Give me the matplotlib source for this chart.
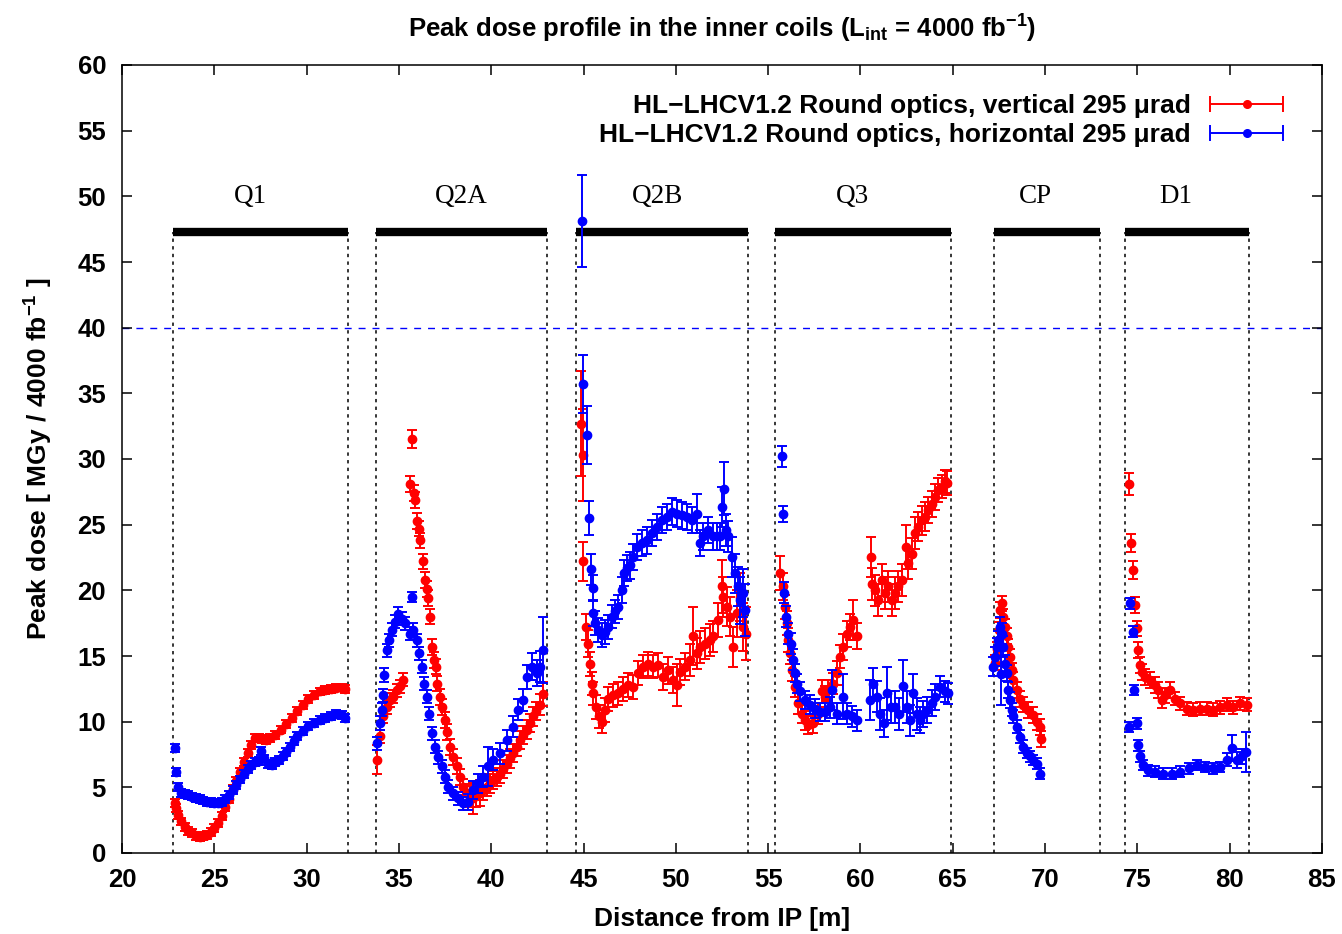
import numpy as np
import matplotlib
matplotlib.use("Agg")
import matplotlib.pyplot as plt
from matplotlib.legend_handler import HandlerErrorbar

plt.rcParams['font.family'] = ['Liberation Sans', 'DejaVu Sans']
plt.rcParams['font.weight'] = 'bold'
plt.rcParams['mathtext.fontset'] = 'custom'
plt.rcParams['mathtext.rm'] = 'Liberation Sans:bold'
plt.rcParams['mathtext.bf'] = 'Liberation Sans:bold'
plt.rcParams['mathtext.it'] = 'Liberation Sans:bold'
plt.rcParams['mathtext.default'] = 'bf'

# ---------------- magnets ----------------
magnet_names = ["Q1", "Q2A", "Q2B", "Q3", "CP", "D1"]
magnet_start = [22.76, 33.76, 44.59, 55.37, 67.23, 74.33]
magnet_end = [32.24, 43.02, 53.91, 64.90, 72.97, 81.05]
magnet_label_x = [26.93, 38.36, 49.03, 59.54, 69.50, 77.09]
bar_level = 47.3
label_level = 50.0
limit_level = 40.0

# ---------------- vertical 295 urad (red) ----------------
q1_red_x = [22.87, 22.95, 23.05, 23.2, 23.4, 23.6, 23.8, 24.0, 24.2, 24.4, 24.6, 24.8, 25.0,
            25.2, 25.4, 25.6, 25.8, 26.0, 26.2, 26.4, 26.6, 26.8, 27.0, 27.2, 27.4, 27.6,
            27.8, 28.0, 28.3, 28.6, 28.9, 29.2, 29.5, 29.8, 30.1, 30.4, 30.7, 31.0, 31.3,
            31.6, 31.9, 32.1]
q1_red_y = [3.8, 3.4, 2.9, 2.4, 2.0, 1.7, 1.5, 1.3, 1.25, 1.3, 1.4, 1.6, 1.9,
            2.3, 2.8, 3.5, 4.1, 4.9, 5.5, 6.2, 6.9, 7.6, 8.2, 8.75, 8.75, 8.7,
            8.6, 8.75, 9.0, 9.4, 9.8, 10.3, 10.8, 11.3, 11.7, 12.0, 12.3, 12.4, 12.5,
            12.6, 12.6, 12.5]
q1_red_e = [0.3] * len(q1_red_x)

q2a_red_x = [33.83, 33.97, 34.15, 34.34, 34.52, 34.7, 34.88, 35.06, 35.24, 35.6, 35.69,
             35.82, 35.87, 36.0, 36.1, 36.14, 36.28, 36.41, 36.5, 36.59, 36.68, 36.77,
             36.9, 37.0, 37.08, 37.22, 37.32, 37.5, 37.62, 37.77, 37.94, 38.13, 38.31,
             38.49, 38.67, 38.85, 39.03, 39.2, 39.39, 39.57, 39.75, 39.93, 40.11, 40.29,
             40.47, 40.66, 40.84, 41.02, 41.2, 41.38, 41.56, 41.74, 41.92, 42.1, 42.28,
             42.45, 42.62, 42.79]
q2a_red_y = [7.1, 8.9, 10.4, 11.1, 11.65, 11.9, 12.4, 12.7, 13.2, 28.1, 31.5,
             27.4, 26.9, 25.3, 24.7, 23.8, 22.2, 20.8, 20.1, 19.4, 18.0, 15.7,
             14.7, 14.2, 12.9, 11.9, 11.1, 10.1, 9.2, 8.1, 7.3, 6.6, 5.8,
             5.05, 4.55, 4.3, 4.15, 4.4, 4.55, 4.8, 5.05, 5.3, 5.55, 5.8,
             6.05, 6.4, 6.8, 7.2, 7.6, 8.1, 8.6, 9.0, 9.4, 9.9, 10.4,
             10.8, 11.3, 12.1]
q2a_red_e = [1.1, 0.5, 0.5, 0.5, 0.5, 0.5, 0.5, 0.5, 0.5, 0.6, 0.7,
             0.6, 0.6, 0.6, 0.6, 0.6, 0.6, 0.6, 0.6, 0.6, 0.6, 0.6,
             0.6, 0.6, 0.6, 0.6, 0.6, 0.6, 0.6, 0.6, 0.6, 0.6, 0.6,
             0.6, 0.7, 0.8, 1.2, 0.9, 1.0, 0.8, 0.7, 0.7, 0.7, 0.7,
             0.7, 0.7, 0.7, 0.7, 0.7, 0.7, 0.7, 0.7, 0.7, 0.7, 0.7,
             0.7, 0.8, 0.9]

q2b_red_x = [44.88, 44.95, 44.99, 45.13, 45.26, 45.35, 45.44, 45.53, 45.67, 45.86, 45.98,
             46.16, 46.34, 46.61, 46.88, 47.15, 47.43, 47.7, 47.97, 48.24, 48.51, 48.78,
             49.05, 49.32, 49.59, 49.86, 50.05, 50.22, 50.5, 50.77, 50.95, 51.13, 51.31,
             51.58, 51.85, 52.03, 52.3, 52.48, 52.57, 52.76, 52.93, 53.12, 53.3, 53.48,
             53.66, 53.8]
q2b_red_y = [32.7, 30.3, 22.2, 17.2, 15.95, 14.4, 12.9, 12.15, 11.1, 10.4, 10.0,
             10.9, 11.75, 12.0, 12.15, 12.5, 12.8, 12.66, 13.7, 14.2, 14.4, 14.2,
             14.3, 13.4, 13.9, 13.2, 12.8, 13.8, 14.2, 14.7, 16.5, 15.2, 15.7,
             15.95, 16.2, 16.5, 17.75, 20.3, 19.5, 18.75, 18.0, 15.7, 18.25, 19.5,
             17.2, 16.7]
q2b_red_e = [4.0, 3.5, 1.5, 1.0, 1.0, 0.9, 0.9, 0.9, 0.9, 0.9, 0.9,
             0.9, 0.9, 0.9, 0.9, 0.9, 0.9, 0.9, 0.9, 0.9, 0.9, 0.9,
             0.9, 1.0, 1.0, 1.0, 1.6, 1.0, 1.0, 1.2, 2.2, 1.2, 1.2,
             1.2, 1.2, 1.2, 1.3, 2.0, 1.5, 1.5, 1.5, 1.5, 1.8, 1.8,
             1.8, 2.0]

q3_red_x = [55.64, 55.82, 55.91, 56.0, 56.09, 56.18, 56.27, 56.45, 56.64, 56.82, 56.99,
            57.18, 57.45, 57.72, 57.9, 58.08, 58.26, 58.53, 58.71, 58.89, 59.07, 59.25,
            59.43, 59.61, 59.79,
            60.57, 60.6, 60.79, 60.97, 61.15, 61.33, 61.51, 61.69, 61.87, 62.05, 62.23,
            62.47, 62.59, 62.78, 62.95, 63.13, 63.32, 63.5, 63.68, 63.86, 64.04, 64.22,
            64.4, 64.58, 64.71]
q3_red_y = [21.3, 20.3, 18.75, 17.5, 16.2, 15.2, 13.9, 12.66, 11.4, 10.6, 10.1,
            9.75, 9.87, 10.6, 12.3, 11.9, 12.4, 12.9, 13.7, 14.95, 15.7, 16.7,
            17.2, 17.75, 16.5,
            22.55, 20.5, 20.0, 19.25, 20.8, 19.8, 20.3, 19.25, 19.8, 20.3, 20.8,
            23.3, 22.05, 22.8, 24.35, 24.85, 25.35, 25.6, 26.1, 26.6, 27.1, 27.65,
            27.9, 28.3, 28.15]
q3_red_e = [1.3, 1.0, 0.9, 0.9, 0.9, 0.8, 0.8, 0.8, 0.8, 0.7, 0.7,
            0.7, 0.7, 0.8, 0.9, 0.8, 0.8, 0.8, 0.9, 0.9, 1.0, 1.0,
            1.0, 1.5, 1.0,
            1.5, 1.2, 1.2, 1.2, 1.2, 1.2, 1.2, 1.2, 1.2, 1.2, 1.2,
            1.7, 1.2, 1.2, 1.2, 1.1, 1.1, 1.1, 1.0, 1.0, 1.0, 0.9,
            0.9, 0.9, 0.9]

cp_red_x = [67.3, 67.4, 67.5, 67.58, 67.65, 67.74, 67.83, 67.92, 68.01, 68.1, 68.19,
            68.28, 68.46, 68.64, 68.82, 69.1, 69.37, 69.58, 69.73, 69.78]
cp_red_y = [14.5, 15.5, 17.0, 18.5, 19.0, 18.0, 17.2, 16.5, 15.7, 14.95, 13.9,
            13.2, 12.4, 11.75, 11.3, 10.9, 10.5, 10.0, 9.6, 8.7]
cp_red_e = [0.6] * len(cp_red_x)

d1_red_x = [74.56, 74.65, 74.74, 74.87, 74.96, 75.05, 75.14, 75.23, 75.41, 75.68, 75.95,
            76.13, 76.32, 76.5, 76.77, 77.04, 77.31, 77.68, 78.03, 78.39, 78.76, 79.12,
            79.48, 79.85, 80.2, 80.57, 80.92]
d1_red_y = [28.1, 23.6, 21.55, 18.9, 17.1, 15.45, 14.3, 13.8, 13.4, 13.2, 12.8,
            12.4, 11.65, 12.0, 12.4, 11.75, 11.4, 11.0, 10.9, 11.0, 11.0, 10.9,
            11.1, 11.3, 11.1, 11.4, 11.3]
d1_red_e = [0.85, 0.7, 0.7, 0.6, 0.6, 0.6, 0.6, 0.6, 0.6, 0.6, 0.6,
            0.6, 0.6, 0.6, 0.6, 0.5, 0.5, 0.5, 0.5, 0.5, 0.5, 0.5,
            0.5, 0.5, 0.5, 0.5, 0.5]

# ---------------- horizontal 295 urad (blue) ----------------
q1_blue_x = [22.87, 22.95, 23.05, 23.2, 23.4, 23.6, 23.8, 24.0, 24.2, 24.4, 24.6, 24.8,
             25.0, 25.2, 25.4, 25.6, 25.8, 26.0, 26.2, 26.4, 26.6, 26.8, 27.0, 27.2,
             27.4, 27.55, 27.7, 27.9, 28.1, 28.3, 28.5, 28.7, 28.9, 29.1, 29.3, 29.5,
             29.8, 30.1, 30.4, 30.7, 31.0, 31.3, 31.6, 31.9, 32.1]
q1_blue_y = [8.0, 6.2, 5.05, 4.6, 4.5, 4.4, 4.3, 4.2, 4.1, 4.0, 3.9, 3.85,
             3.8, 3.8, 3.9, 4.1, 4.4, 4.8, 5.2, 5.6, 6.0, 6.4, 6.7, 6.9,
             7.0, 7.8, 7.2, 6.8, 6.7, 6.9, 7.1, 7.4, 7.7, 8.1, 8.5, 8.9,
             9.3, 9.7, 9.9, 10.1, 10.3, 10.4, 10.6, 10.5, 10.3]
q1_blue_e = [0.3] * len(q1_blue_x)

q2a_blue_x = [33.83, 33.97, 34.07, 34.12, 34.19, 34.34, 34.48, 34.61, 34.79, 34.97, 35.15,
              35.33, 35.6, 35.69, 35.78, 35.96, 36.1, 36.23, 36.35, 36.5, 36.64, 36.77,
              36.95, 37.13, 37.32, 37.5, 37.68, 37.94, 38.22, 38.49, 38.76, 39.03, 39.3,
              39.57, 39.84, 40.11, 40.47, 40.84, 41.2, 41.47, 41.74, 41.92, 42.19, 42.46,
              42.64, 42.79]
q2a_blue_y = [8.35, 9.9, 10.9, 12.0, 13.55, 15.45, 16.2, 17.0, 17.6, 18.2, 17.85,
              17.5, 16.7, 19.5, 17.0, 16.2, 15.2, 14.2, 12.9, 11.9, 10.6, 9.1,
              8.1, 7.3, 6.6, 5.8, 5.05, 4.55, 4.15, 3.8, 3.9, 4.8, 5.3,
              5.8, 6.6, 7.1, 7.6, 8.6, 9.6, 10.9, 11.65, 13.4, 14.2, 13.7,
              14.2, 15.45]
q2a_blue_e = [0.5, 0.5, 0.5, 0.5, 0.5, 0.5, 0.5, 0.5, 0.5, 0.5, 0.5,
              0.5, 0.5, 0.4, 0.5, 0.5, 0.5, 0.5, 0.5, 0.5, 0.5, 0.5,
              0.5, 0.5, 0.5, 0.5, 0.5, 0.5, 0.5, 0.5, 0.6, 0.7, 0.7,
              0.8, 1.5, 0.8, 0.8, 0.8, 0.8, 0.8, 0.8, 0.9, 1.0, 1.0,
              1.2, 2.5]

q2b_blue_x = [44.94, 44.98, 45.18, 45.31, 45.43, 45.51, 45.53, 45.62, 45.8, 45.98, 46.16,
              46.34, 46.52, 46.7, 46.88, 47.07, 47.19, 47.34, 47.52, 47.7, 47.88, 48.15,
              48.42, 48.69, 48.96, 49.23, 49.5, 49.77, 50.05, 50.32, 50.59, 50.86, 51.13,
              51.31, 51.49, 51.76, 52.03, 52.21, 52.4, 52.52, 52.59, 52.72, 52.84, 53.02,
              53.2, 53.35, 53.48, 53.62, 53.75]
q2b_blue_y = [48.1, 35.7, 31.8, 25.5, 21.6, 20.2, 18.25, 17.5, 17.0, 16.6, 16.85,
              17.2, 18.0, 18.4, 18.75, 20.0, 21.3, 21.7, 21.9, 22.55, 23.3, 23.6,
              23.8, 24.35, 24.85, 25.35, 25.6, 26.0, 25.85, 25.7, 25.6, 25.35, 25.85,
              23.6, 24.1, 24.6, 24.1, 24.1, 24.1, 26.35, 27.75, 24.6, 24.1, 22.55,
              21.3, 20.3, 19.25, 19.8, 18.5]
q2b_blue_e = [3.5, 2.2, 2.2, 1.3, 1.2, 1.0, 1.0, 0.9, 0.9, 0.9, 0.9,
              0.9, 0.9, 0.9, 0.9, 1.0, 1.0, 1.0, 1.0, 1.0, 1.0, 1.0,
              1.0, 1.0, 1.0, 1.0, 1.0, 1.0, 1.0, 1.0, 1.0, 1.0, 1.5,
              1.0, 1.0, 1.0, 1.0, 1.0, 1.0, 1.5, 2.0, 1.2, 1.2, 1.5,
              1.5, 1.5, 1.8, 1.8, 2.0]

q3_blue_x = [55.73, 55.79, 55.86, 55.97, 56.09, 56.22, 56.33, 56.45, 56.58, 56.72, 56.99,
             57.27, 57.54, 57.81, 58.08, 58.35, 58.44, 58.71, 59.07, 59.25, 59.52, 59.79,
             60.52, 60.7, 60.88, 61.06, 61.28, 61.42, 61.64, 61.87, 62.1, 62.32, 62.5,
             62.68, 62.86, 63.04, 63.22, 63.4, 63.59, 63.86, 64.04, 64.31, 64.58, 64.76]
q3_blue_y = [30.2, 25.8, 19.8, 18.0, 16.7, 15.95, 14.7, 13.7, 12.9, 12.3, 11.65,
             11.3, 11.0, 10.75, 10.75, 11.1, 12.4, 10.6, 11.9, 10.6, 10.4, 10.1,
             11.65, 12.9, 11.9, 10.6, 9.87, 12.15, 11.1, 11.1, 10.6, 12.7, 11.1,
             10.1, 12.15, 10.6, 10.1, 10.6, 10.9, 11.4, 11.9, 12.66, 12.3, 12.15]
q3_blue_e = [0.8, 0.6, 0.8, 0.8, 0.8, 0.8, 0.8, 0.7, 0.7, 0.7, 0.7,
             0.7, 0.7, 0.7, 0.7, 0.8, 1.5, 0.8, 1.7, 0.8, 0.8, 0.8,
             1.5, 1.2, 1.2, 1.2, 1.0, 2.0, 1.2, 1.2, 1.2, 2.0, 1.2,
             1.2, 1.5, 1.2, 1.0, 1.0, 1.0, 1.0, 1.0, 0.8, 0.8, 0.8]

cp_blue_x = [67.2, 67.29, 67.38, 67.47, 67.56, 67.6, 67.65, 67.74, 67.83, 67.92, 68.01,
             68.1, 68.19, 68.28, 68.46, 68.64, 68.82, 69.0, 69.19, 69.37, 69.55, 69.73]
cp_blue_y = [14.2, 14.95, 15.7, 16.2, 17.2, 13.6, 16.7, 15.7, 14.4, 13.7, 12.4,
             11.65, 10.9, 10.4, 9.6, 8.85, 8.1, 7.6, 7.35, 7.1, 6.8, 6.05]
cp_blue_e = [0.7, 0.7, 0.7, 0.7, 0.8, 2.3, 0.8, 0.8, 0.7, 0.6, 0.6,
             0.6, 0.5, 0.5, 0.5, 0.5, 0.5, 0.4, 0.4, 0.4, 0.4, 0.4]

d1_blue_x = [74.56, 74.6, 74.74, 74.83, 74.99, 75.05, 75.14, 75.32, 75.59, 75.95, 76.4,
             76.86, 77.31, 77.77, 78.21, 78.66, 79.12, 79.48, 79.85, 80.12, 80.39, 80.66,
             80.88]
d1_blue_y = [9.6, 19.0, 16.85, 12.4, 9.87, 8.2, 7.35, 6.7, 6.3, 6.2, 6.05,
             6.05, 6.2, 6.45, 6.7, 6.55, 6.45, 6.55, 7.1, 8.0, 7.1, 7.35,
             7.7]
d1_blue_e = [0.4, 0.4, 0.4, 0.4, 0.4, 0.4, 0.4, 0.4, 0.4, 0.4, 0.4,
             0.4, 0.4, 0.4, 0.4, 0.4, 0.4, 0.4, 0.5, 1.0, 0.6, 0.6,
             1.5]

red_sets = [(q1_red_x, q1_red_y, q1_red_e), (q2a_red_x, q2a_red_y, q2a_red_e),
            (q2b_red_x, q2b_red_y, q2b_red_e), (q3_red_x, q3_red_y, q3_red_e),
            (cp_red_x, cp_red_y, cp_red_e), (d1_red_x, d1_red_y, d1_red_e)]
blue_sets = [(q1_blue_x, q1_blue_y, q1_blue_e), (q2a_blue_x, q2a_blue_y, q2a_blue_e),
             (q2b_blue_x, q2b_blue_y, q2b_blue_e), (q3_blue_x, q3_blue_y, q3_blue_e),
             (cp_blue_x, cp_blue_y, cp_blue_e), (d1_blue_x, d1_blue_y, d1_blue_e)]

label_red = "HL\u2212LHCV1.2 Round optics, vertical 295 \u03bcrad"
label_blue = "HL\u2212LHCV1.2 Round optics, horizontal 295 \u03bcrad"

fig = plt.figure(figsize=(13.42, 9.34), dpi=100)
ax = fig.add_axes([122 / 1342, 81 / 934, 1200 / 1342, 788 / 934])

eb_kw = dict(fmt='o', ms=6, capsize=3.5, elinewidth=1.4, capthick=1.4,
             linestyle='none')

# magnet boundaries
for s, e in zip(magnet_start, magnet_end):
    for xv in (s, e):
        ax.plot([xv, xv], [0, bar_level], color='black', lw=1.1,
                linestyle=(0, (2.2, 2.8)), zorder=1)
    ax.plot([s, e], [bar_level, bar_level], color='black', lw=6.0,
            solid_capstyle='butt', zorder=2)
for name, lx in zip(magnet_names, magnet_label_x):
    ax.text(lx, label_level, name, ha='center', va='center', fontsize=19.5,
            family=['Liberation Serif', 'DejaVu Serif'], fontweight='normal')

ax.axhline(limit_level, color='#0000ff', lw=1.0, linestyle=(0, (5, 5)), zorder=1)

for xs, ys, es in red_sets:
    ax.errorbar(xs, ys, yerr=es, color='#ff0000', zorder=3, **eb_kw)
for xs, ys, es in blue_sets:
    ax.errorbar(xs, ys, yerr=es, color='#0000ff', zorder=4, **eb_kw)

# legend proxies (gnuplot style horizontal error bar)
leg_kw = dict(fmt='o', ms=5.5, capsize=5.5, elinewidth=1.4, capthick=1.4)
p_red = ax.errorbar([np.nan], [np.nan], xerr=[1], color='#ff0000', label=label_red, **leg_kw)
p_blue = ax.errorbar([np.nan], [np.nan], xerr=[1], color='#0000ff', label=label_blue, **leg_kw)
leg = ax.legend(handles=[p_red, p_blue], loc='upper right', bbox_to_anchor=(0.969, 0.963),
                frameon=False, markerfirst=False, fontsize=19, handlelength=2.9,
                handletextpad=0.65, labelspacing=0.2, borderpad=0, borderaxespad=0,
                handler_map={type(p_red): HandlerErrorbar(xerr_size=1.38)})
for t in leg.get_texts():
    t.set_fontweight('bold')

ax.set_xlim(20, 85)
ax.set_ylim(0, 60)
ax.set_xticks(np.arange(20, 86, 5))
ax.set_yticks(np.arange(0, 61, 5))
ax.tick_params(direction='in', top=True, right=True, length=7, width=1.1,
               labelsize=18.5)
ax.tick_params(axis='x', pad=10.5)
ax.tick_params(axis='y', pad=11.5)
for lab in ax.get_xticklabels() + ax.get_yticklabels():
    lab.set_fontweight('bold')
for sp in ax.spines.values():
    sp.set_linewidth(1.1)

ax.set_xlabel("Distance from IP [m]", fontsize=19, fontweight='bold', labelpad=11)
ax.set_ylabel("Peak dose [ MGy / 4000 fb$^{-1}$ ]", fontsize=19, fontweight='bold', labelpad=16)
ax.set_title("Peak dose profile in the inner coils (L$_{int}$ = 4000 fb$^{-1}$)",
             fontsize=18.5, fontweight='bold', pad=20)

fig.savefig("out.png", dpi=100)
